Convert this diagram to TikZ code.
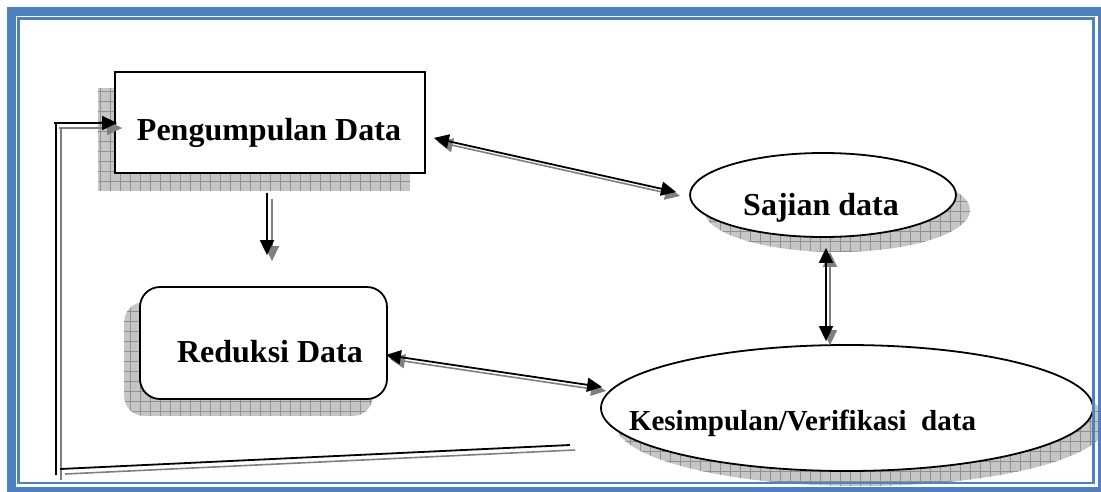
\documentclass[tikz,border=0pt]{standalone}
\usepackage{fontspec}
\setmainfont{Liberation Serif}
\usetikzlibrary{arrows.meta,shapes.geometric,patterns.meta,calc}
\pgfdeclarelayer{bg}
\pgfsetlayers{bg,main}
\definecolor{wblue}{HTML}{4F81BD}
\definecolor{shgray}{HTML}{C6C6C6}
\definecolor{shgrid}{HTML}{909090}
\definecolor{arrgray}{HTML}{7F7F7F}
\begin{document}
\begin{tikzpicture}[x=1pt,y=-1pt,
  procbox/.style={draw=black, line width=1.8pt, fill=white, inner sep=0pt},
  roundbox/.style={procbox, rounded corners=20pt},
  ovalnode/.style={ellipse, draw=black, line width=1.8pt, fill=white, inner sep=0pt},
  lbl/.style={font=\bfseries\fontsize{32}{36}\selectfont, inner sep=0pt, anchor=base},
  lblsmall/.style={font=\bfseries\fontsize{29}{33}\selectfont, inner sep=0pt, anchor=base},
  shadowfill/.style={fill=shgray, postaction={pattern={Hatch[distance=10pt,line width=0.7pt]}, pattern color=shgrid}},
  tipb/.style={-{Triangle[length=15pt,width=14pt]}},
  tipbb/.style={{Triangle[length=15pt,width=14pt]}-{Triangle[length=15pt,width=14pt]}},
  blk/.style={draw=black, fill=black, line width=1.8pt},
  gry/.style={draw=arrgray, fill=arrgray, line width=1.6pt, transform canvas={shift={(#1)}}},
  gry/.default={4pt,-4pt},
  plainblk/.style={draw=black, line width=1.8pt},
  plaingry/.style={draw=arrgray, line width=1.6pt, transform canvas={shift={(5pt,-5pt)}}},
  border/.style={draw=wblue, line width=9pt},
  innerborder/.style={draw=wblue, line width=2.5pt}
]
\useasboundingbox (0,0) rectangle (1101,491);

% nodes
\node[procbox, minimum width=310pt, minimum height=101pt] (p) at (270,122.5) {};
\node[roundbox, minimum width=247pt, minimum height=112pt] (r) at (263.5,343) {};
\node[ovalnode, minimum width=266pt, minimum height=84pt] (s) at (823,195) {};
\node[ovalnode, minimum width=492pt, minimum height=126pt] (k) at (847,408) {};

\node[lbl] (pt) at (269,140) {Pengumpulan Data};
\node[lbl] (rt) at (270,362) {Reduksi Data};
\node[lbl] (st) at (821,215) {Sajian data};
\node[lblsmall] (kt) at (802.5,430) {Kesimpulan/Verifikasi\ \ data};

% shadows
\begin{pgfonlayer}{bg}
\path[shadowfill] ($(p.north west)+(-16,17)$) rectangle ($(p.south east)+(-16,17)$);
\path[shadowfill, rounded corners=20pt] ($(r.north west)+(-15,16)$) rectangle ($(r.south east)+(-15,16)$);
\path[shadowfill] ($(s.center)+(14,15)$) ellipse [x radius=133pt, y radius=42pt];
\path[shadowfill] ($(k.center)+(14,15)$) ellipse [x radius=246pt, y radius=63pt];
\end{pgfonlayer}

% coordinates for connector ends
\coordinate (pe) at ($(p.east)+(8,15.5)$);
\coordinate (sw) at ($(s.west)+(-13,-3)$);
\coordinate (ps) at ($(p.south)+(-3,19)$);
\coordinate (rn) at ($(r.north)+(3.5,-31)$);
\coordinate (ss) at ($(s.south)+(3,10)$);
\coordinate (kn) at ($(k.north)+(-21,-3)$);
\coordinate (re) at ($(r.east)+(-2,12)$);
\coordinate (kw) at ($(k.west)+(2,-21)$);
\coordinate (fbr) at (570,445);
\coordinate (fbl) at (60,469);
\coordinate (fvb) at (56,475);
\coordinate (fvt) at (56,123);
\coordinate (fht) at (54,123);
\coordinate (pw) at ($(p.west)+(3,0.5)$);

% shadow (gray) connectors
\draw[gry, tipbb] (pe) -- (sw);
\draw[gry={5pt,-6pt}, tipb] (ps) -- (rn);
\draw[gry, tipbb] (ss) -- (kn);
\draw[gry, tipbb] (re) -- (kw);
\draw[plaingry] (fbr) -- (fbl);
\draw[plaingry] (fvb) -- (fvt);
\draw[gry={5pt,-5pt}, tipb] (fht) -- (pw);

% black connectors
\draw[blk, tipbb] (pe) -- (sw);
\draw[blk, tipb] (ps) -- (rn);
\draw[blk, tipbb] (ss) -- (kn);
\draw[blk, tipbb] (re) -- (kw);
\draw[plainblk] (fbr) -- (fbl);
\draw[plainblk] (fvb) -- (fvt);
\draw[blk, tipb] (fht) -- (pw);

% page border
\draw[border] (11.5,11.5) rectangle (1102.5,491.5);
\draw[innerborder] (18.5,18.5) rectangle (1093.5,483);
\end{tikzpicture}
\end{document}
